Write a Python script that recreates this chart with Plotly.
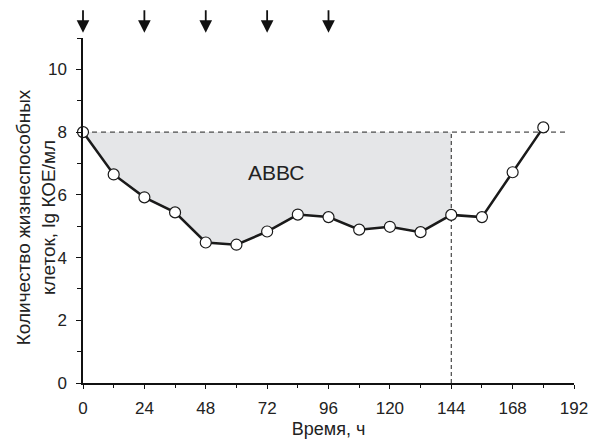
import plotly.graph_objects as go

hours = [0, 12, 24, 36, 48, 60, 72, 84, 96, 108, 120, 132, 144, 156, 168, 180]
lg_cfu = [8.0, 6.65, 5.92, 5.44, 4.48, 4.41, 4.83, 5.37, 5.29, 4.89, 4.98, 4.81, 5.36, 5.29, 6.72, 8.15]
baseline = 8.0
auc_end = 144
baseline_end = 190
dose_times = [0, 24, 48, 72, 96]
x_ticks = [0, 24, 48, 72, 96, 120, 144, 168, 192]
y_ticks = [0, 2, 4, 6, 8, 10]
area_label = "АВВС"
x_title = "Время, ч"
y_title = "Количество жизнеспособных<br>клеток, lg КОЕ/мл"

font_family = "Liberation Sans, Arial, Helvetica, sans-serif"

fig = go.Figure()

# shaded area between baseline and curve up to auc_end
fx = [h for h in hours if h <= auc_end]
fy = [v for h, v in zip(hours, lg_cfu) if h <= auc_end]
poly_x = fx + [auc_end, 0]
poly_y = fy + [baseline, baseline]
fig.add_trace(go.Scatter(x=poly_x, y=poly_y, fill="toself", fillcolor="#e5e6e8",
                         line=dict(width=0), mode="lines", hoverinfo="skip", showlegend=False))

# dashed reference lines
fig.add_trace(go.Scatter(x=[0, baseline_end], y=[baseline, baseline], mode="lines",
                         line=dict(color="#222", width=1, dash="5px,4px"), showlegend=False))
fig.add_trace(go.Scatter(x=[auc_end, auc_end], y=[0, baseline], mode="lines",
                         line=dict(color="#222", width=1, dash="4px,3px"), showlegend=False))

# main curve
fig.add_trace(go.Scatter(x=hours, y=lg_cfu, mode="lines+markers",
                         line=dict(color="#1a1a1a", width=2.5),
                         marker=dict(size=11, color="white", line=dict(color="#1a1a1a", width=1.2)),
                         cliponaxis=False, showlegend=False))

fig.add_annotation(x=75.8, y=6.7, text=area_label, showarrow=False,
                   font=dict(size=21, color="#222", family=font_family))

# y-axis title (placed as rotated text left of the tick labels)
fig.add_annotation(x=-0.0953, y=0.481, xref="paper", yref="paper", text=y_title,
                   textangle=-90, showarrow=False, xanchor="center", yanchor="middle",
                   align="center", font=dict(size=19, color="#222", family=font_family))

for t in dose_times:
    fig.add_annotation(x=t, y=1.015, xref="x", yref="paper", ax=0, ay=-24,
                       showarrow=True, arrowhead=2, arrowsize=1.4, arrowwidth=1.8,
                       arrowcolor="#111", text="")

fig.update_layout(
    width=592, height=440,
    margin=dict(l=75, r=24, t=30, b=65),
    plot_bgcolor="white", paper_bgcolor="white",
    font=dict(family=font_family, size=17, color="#222"),
    showlegend=False,
)
fig.update_xaxes(range=[0, 192], tickvals=x_ticks, ticks="outside", ticklen=4, tickwidth=1,
                 showline=True, linecolor="#111", linewidth=1.5, showgrid=False, zeroline=False,
                 minor=dict(dtick=12, tick0=0, ticks="outside", ticklen=3, tickcolor="#111"),
                 tickcolor="#111", tickfont=dict(size=17), ticklabelstandoff=5,
                 automargin=True,
                 title=dict(text=x_title, font=dict(size=18), standoff=5))
fig.update_yaxes(range=[0, 11], tickvals=y_ticks, ticks="outside", ticklen=5, tickwidth=1,
                 showline=True, linecolor="#111", linewidth=1.5, showgrid=False, zeroline=False,
                 minor=dict(dtick=1, tick0=0, ticks="outside", ticklen=4, tickcolor="#111"),
                 tickcolor="#111", tickfont=dict(size=17), ticklabelstandoff=6,
                 automargin=False)

fig.write_html("out.html")
